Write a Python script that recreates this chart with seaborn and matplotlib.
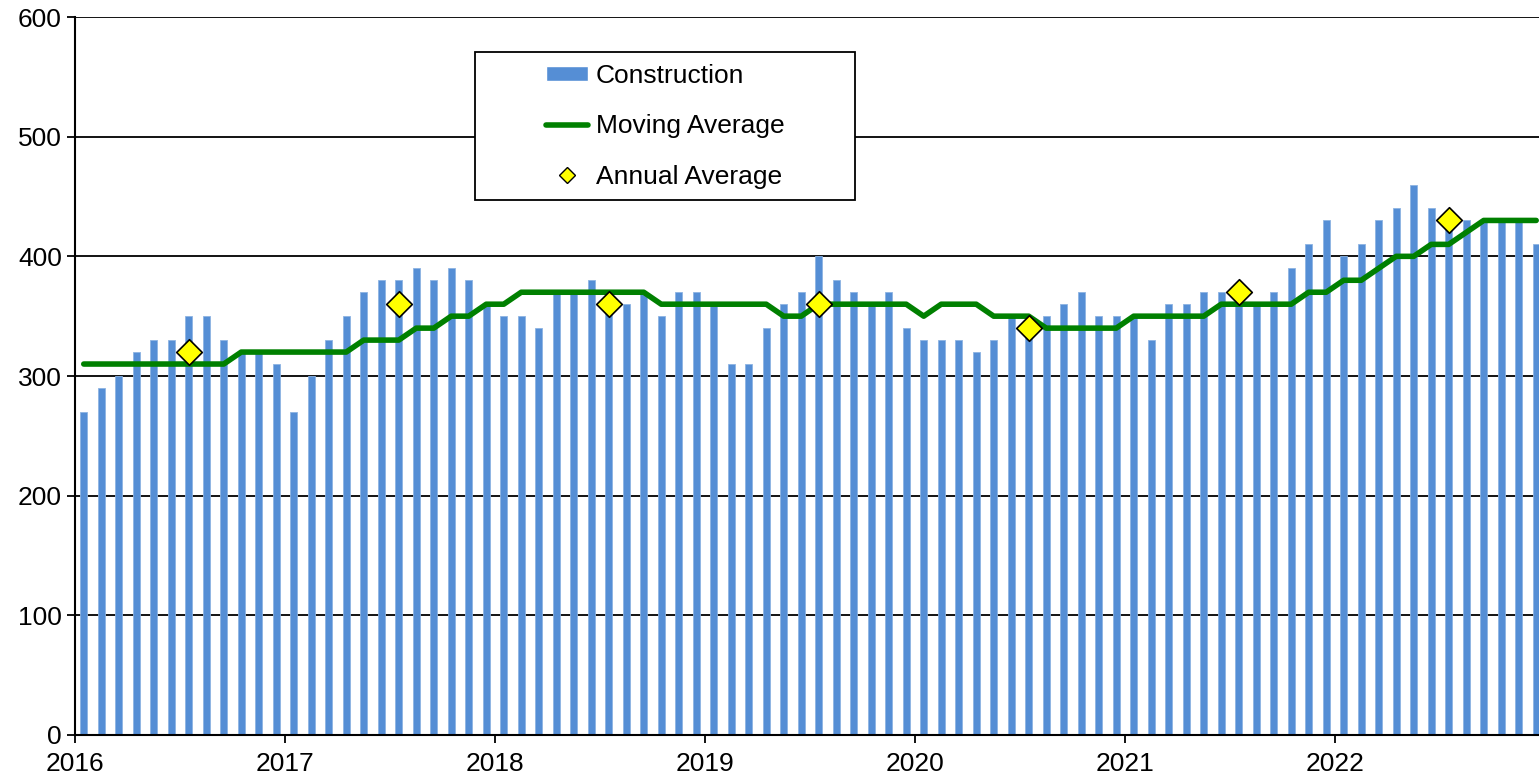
import numpy as np
import pandas as pd
import seaborn as sns
from matplotlib import pyplot as plt
from matplotlib.patches import Patch, Rectangle
from matplotlib.lines import Line2D

years = ['2016', '2017', '2018', '2019', '2020', '2021', '2022']

# monthly values, Jan 2016 .. Dec 2022
construction = [
    270, 290, 300, 320, 330, 330, 350, 350, 330, 320, 320, 310,  # 2016
    270, 300, 330, 350, 370, 380, 380, 390, 380, 390, 380, 360,  # 2017
    350, 350, 340, 370, 370, 380, 360, 360, 370, 350, 370, 370,  # 2018
    360, 310, 310, 340, 360, 370, 400, 380, 370, 360, 370, 340,  # 2019
    330, 330, 330, 320, 330, 350, 340, 350, 360, 370, 350, 350,  # 2020
    350, 330, 360, 360, 370, 370, 360, 360, 370, 390, 410, 430,  # 2021
    400, 410, 430, 440, 460, 440, 430, 430, 430, 430, 430, 410,  # 2022
]

moving_avg = [
    310, 310, 310, 310, 310, 310, 310, 310, 310, 320, 320, 320,
    320, 320, 320, 320, 330, 330, 330, 340, 340, 350, 350, 360,
    360, 370, 370, 370, 370, 370, 370, 370, 370, 360, 360, 360,
    360, 360, 360, 360, 350, 350, 360, 360, 360, 360, 360, 360,
    350, 360, 360, 360, 350, 350, 350, 340, 340, 340, 340, 340,
    350, 350, 350, 350, 350, 360, 360, 360, 360, 360, 370, 370,
    380, 380, 390, 400, 400, 410, 410, 420, 430, 430, 430, 430,
]

annual_avg = [320, 360, 360, 360, 340, 370, 430]

bar_color = '#558ED5'
line_color = '#008000'

# bars sit in the middle of each month, annual average at July
df = pd.DataFrame({
    'month': np.arange(len(construction)) + 0.5,
    'construction': construction,
    'moving': moving_avg,
})
mid_year = np.arange(len(years)) * 12 + 6.5

sns.set_theme(style='ticks')
plt.rcParams['font.family'] = ['Liberation Sans', 'DejaVu Sans']

fig = plt.figure(figsize=(15.39, 7.79), dpi=100)
ax = fig.add_axes([75 / 1539, 44 / 779, 1 - 75 / 1539, 718 / 779])

sns.barplot(data=df, x='month', y='construction', native_scale=True, width=0.4,
            color=bar_color, saturation=1, errorbar=None, ax=ax,
            edgecolor='#8DB3E2', linewidth=0.6)
sns.lineplot(data=df, x='month', y='moving', color=line_color, linewidth=4, ax=ax)
sns.scatterplot(x=mid_year, y=annual_avg, marker='D', s=170, color='#FFFF00',
                edgecolor='black', linewidth=1.2, zorder=5, ax=ax)

ax.set_ylim(0, 600)
ax.set_yticks(range(0, 601, 100))
ax.set_xlim(0, 83.66)
ax.set_xticks(np.arange(len(years)) * 12)
ax.set_xticklabels(years)
ax.set_xlabel('')
ax.set_ylabel('')

ax.yaxis.grid(True, color='black', linewidth=1.3)
ax.set_axisbelow(True)
for side in ['top', 'right']:
    ax.spines[side].set_visible(False)
for side in ['left', 'bottom']:
    ax.spines[side].set_color('black')
    ax.spines[side].set_linewidth(1.5)
ax.tick_params(labelsize=19, length=6, width=1.3, color='black', labelcolor='black')
ax.tick_params(axis='x', pad=6)

# legend box with white fill, content centred in it
box = (0.273, 0.745, 0.26, 0.206)
ax.add_patch(Rectangle(box[:2], box[2], box[3], transform=ax.transAxes,
                       facecolor='white', edgecolor='black', linewidth=1.3, zorder=6))
handles = [
    Patch(facecolor=bar_color, label='Construction'),
    Line2D([], [], color=line_color, lw=4, label='Moving Average'),
    Line2D([], [], marker='D', linestyle='none', markerfacecolor='#FFFF00',
           markeredgecolor='black', markersize=8, label='Annual Average'),
]
leg = ax.legend(handles=handles, loc='center', bbox_to_anchor=box, frameon=False,
                fontsize=19, handlelength=1.6, handleheight=0.5, handletextpad=0.3,
                labelspacing=1.0)
for text in leg.get_texts():
    text.set_color('black')
leg.set_zorder(7)

plt.savefig('out.png', dpi=100)
